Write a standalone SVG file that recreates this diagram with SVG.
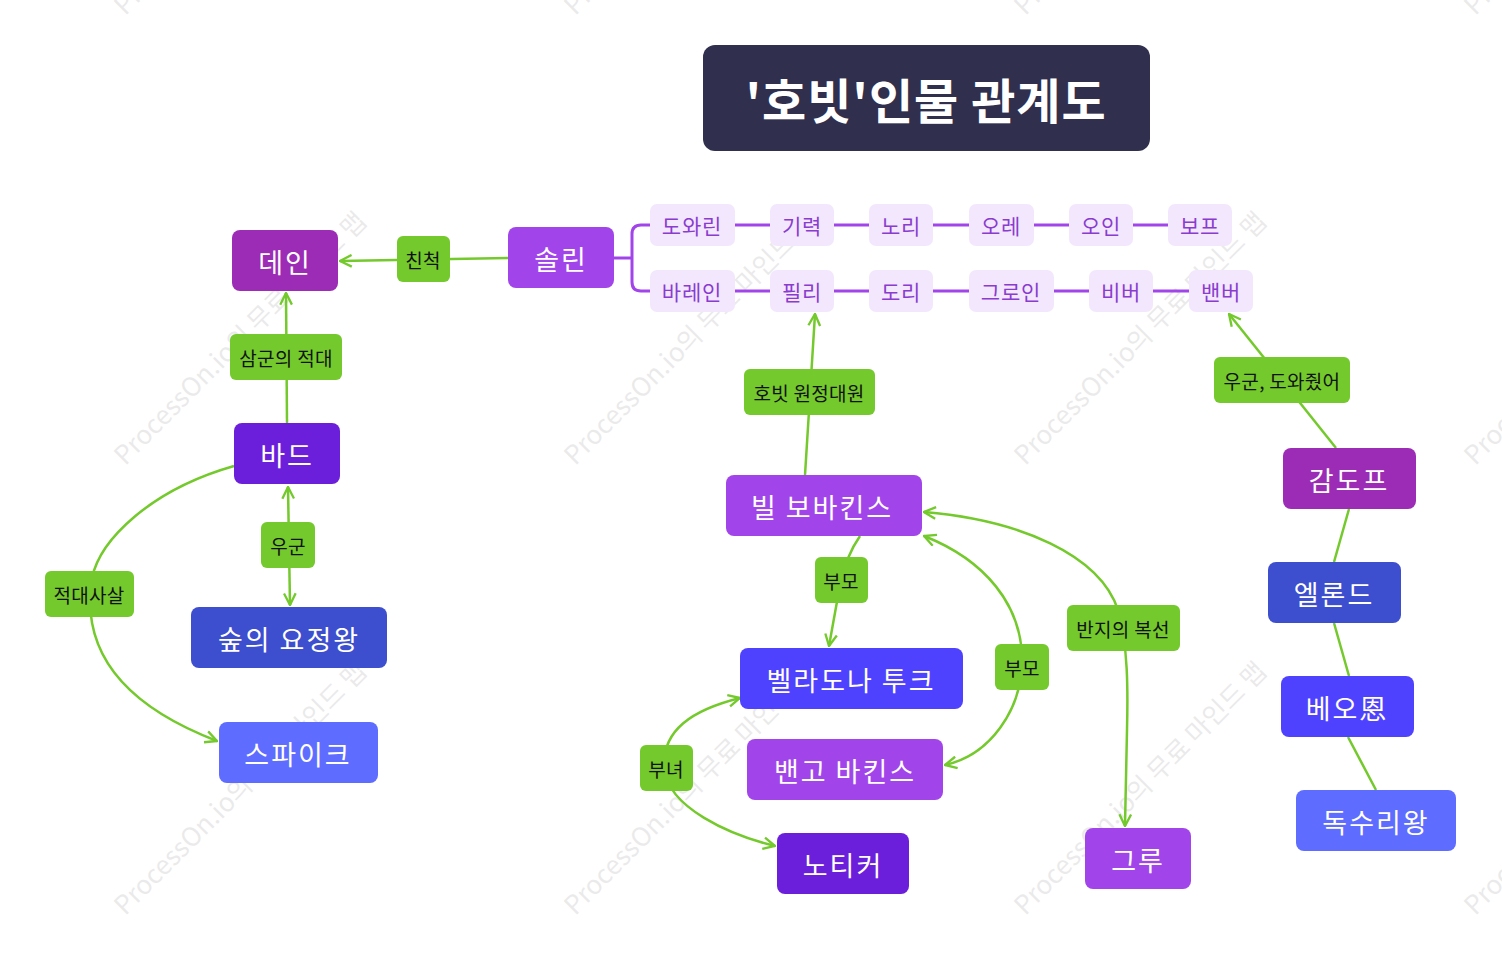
<svg xmlns="http://www.w3.org/2000/svg" width="1502" height="955" viewBox="0 0 1502 955">
<style>
text{font-family:"Noto Sans CJK KR","Noto Sans",sans-serif;text-anchor:middle;dominant-baseline:central}
.wm{font-size:26px;fill:#000;opacity:0.08;text-anchor:start}
.n{font-size:27px;fill:#fff;letter-spacing:2px}
.l{font-size:19px;fill:#111;letter-spacing:0.3px}
.c{font-size:21px;fill:#8a3ccf;letter-spacing:0.8px}
.lab{fill:#74c92c}
.chip{fill:#f3e7fd}
.con{fill:none;stroke:#74c92c;stroke-width:2.5}
.pl{fill:none;stroke:#a145ea;stroke-width:3}
</style>
<defs>
<marker id="ar" viewBox="0 0 12 12" refX="11" refY="6" markerWidth="14" markerHeight="14" markerUnits="userSpaceOnUse" orient="auto-start-reverse">
<path d="M1,1 L11,6 L1,11" fill="none" stroke="#74c92c" stroke-width="2"/>
</marker>
</defs>
<rect width="1502" height="955" fill="#fff"/>
<g id="watermark">
<text class="wm" transform="translate(117,458) rotate(-45)">ProcessOn.io의 무료 마인드 맵</text>
<text class="wm" transform="translate(567,458) rotate(-45)">ProcessOn.io의 무료 마인드 맵</text>
<text class="wm" transform="translate(1017,458) rotate(-45)">ProcessOn.io의 무료 마인드 맵</text>
<text class="wm" transform="translate(1467,458) rotate(-45)">ProcessOn.io의 무료 마인드 맵</text>
<text class="wm" transform="translate(117,908) rotate(-45)">ProcessOn.io의 무료 마인드 맵</text>
<text class="wm" transform="translate(567,908) rotate(-45)">ProcessOn.io의 무료 마인드 맵</text>
<text class="wm" transform="translate(1017,908) rotate(-45)">ProcessOn.io의 무료 마인드 맵</text>
<text class="wm" transform="translate(1467,908) rotate(-45)">ProcessOn.io의 무료 마인드 맵</text>
<text class="wm" transform="translate(117,8) rotate(-45)">ProcessOn.io의 무료 마인드 맵</text>
<text class="wm" transform="translate(567,8) rotate(-45)">ProcessOn.io의 무료 마인드 맵</text>
<text class="wm" transform="translate(1017,8) rotate(-45)">ProcessOn.io의 무료 마인드 맵</text>
<text class="wm" transform="translate(1467,8) rotate(-45)">ProcessOn.io의 무료 마인드 맵</text>
</g>
<g id="connectors">
<path class="pl" d="M614,258 L632,258 M650,225 L641,225 Q632,225 632,234 L632,282 Q632,291 641,291 L650,291"/>
<path class="pl" d="M735,225 L1168,225"/>
<path class="pl" d="M735,291 L1190,291"/>
<path class="con" d="M508,258 L340,261" marker-end="url(#ar)"/>
<path class="con" d="M287,423 L286,293" marker-end="url(#ar)"/>
<path class="con" d="M288,487 L290,605" marker-start="url(#ar)" marker-end="url(#ar)"/>
<path class="con" d="M234,466 C150,490 100,540 92,578 C82,640 110,700 217,741" marker-end="url(#ar)"/>
<path class="con" d="M805,475 L815,314" marker-end="url(#ar)"/>
<path class="con" d="M860,536 Q846,556 840,585 L829,646" marker-end="url(#ar)"/>
<path class="con" d="M924,536 C985,560 1022,605 1022,660 C1022,710 990,755 945,765" marker-start="url(#ar)" marker-end="url(#ar)"/>
<path class="con" d="M924,512 C1020,520 1100,555 1118,610 C1128,645 1128,690 1127,730 L1125,826" marker-start="url(#ar)" marker-end="url(#ar)"/>
<path class="con" d="M740,698 C692,710 662,730 664,768 C668,808 730,835 775,846" marker-start="url(#ar)" marker-end="url(#ar)"/>
<path class="con" d="M1336,448 L1229,314" marker-end="url(#ar)"/>
<path class="con" d="M1349,509 L1334,562"/>
<path class="con" d="M1334,623 L1349,676"/>
<path class="con" d="M1348,737 L1376,790"/>
</g>
<g id="title"><rect x="703" y="45" width="447" height="106" rx="12" fill="#302f4d"/><text x="926" y="98" style="font-size:48px;font-weight:bold;fill:#fff;letter-spacing:1px">'호빗'인물 관계도</text></g>
<g id="dain"><rect x="232" y="230" width="106" height="61" rx="8" fill="#9c2bb5"/><text class="n" x="285" y="261">데인</text></g>
<g id="lab-chincheok"><rect class="lab" x="397" y="236" width="53" height="46" rx="6"/><text class="l" x="423" y="259">친척</text></g>
<g id="thorin"><rect x="508" y="227" width="106" height="61" rx="8" fill="#a145ea"/><text class="n" x="561" y="258">솔린</text></g>
<g id="dwalin"><rect class="chip" x="650" y="204" width="85" height="42" rx="7"/><text class="c" x="692" y="225">도와린</text></g>
<g id="gimli"><rect class="chip" x="770" y="204" width="64" height="42" rx="7"/><text class="c" x="802" y="225">기력</text></g>
<g id="nori"><rect class="chip" x="869" y="204" width="64" height="42" rx="7"/><text class="c" x="901" y="225">노리</text></g>
<g id="ori"><rect class="chip" x="969" y="204" width="65" height="42" rx="7"/><text class="c" x="1001" y="225">오레</text></g>
<g id="oin"><rect class="chip" x="1069" y="204" width="64" height="42" rx="7"/><text class="c" x="1101" y="225">오인</text></g>
<g id="bofur"><rect class="chip" x="1168" y="204" width="64" height="42" rx="7"/><text class="c" x="1200" y="225">보프</text></g>
<g id="balin"><rect class="chip" x="650" y="270" width="85" height="42" rx="7"/><text class="c" x="692" y="291">바레인</text></g>
<g id="fili"><rect class="chip" x="770" y="270" width="64" height="42" rx="7"/><text class="c" x="802" y="291">필리</text></g>
<g id="dori"><rect class="chip" x="869" y="270" width="64" height="42" rx="7"/><text class="c" x="901" y="291">도리</text></g>
<g id="gloin"><rect class="chip" x="969" y="270" width="85" height="42" rx="7"/><text class="c" x="1011" y="291">그로인</text></g>
<g id="bifur"><rect class="chip" x="1089" y="270" width="64" height="42" rx="7"/><text class="c" x="1121" y="291">비버</text></g>
<g id="bombur"><rect class="chip" x="1189" y="270" width="64" height="42" rx="7"/><text class="c" x="1221" y="291">밴버</text></g>
<g id="lab-samgun"><rect class="lab" x="230" y="334" width="112" height="46" rx="6"/><text class="l" x="286" y="357">삼군의 적대</text></g>
<g id="bard"><rect x="234" y="423" width="106" height="61" rx="8" fill="#6c1fdb"/><text class="n" x="287" y="454">바드</text></g>
<g id="lab-ugun"><rect class="lab" x="261" y="522" width="54" height="46" rx="6"/><text class="l" x="288" y="545">우군</text></g>
<g id="thranduil"><rect x="191" y="607" width="196" height="61" rx="8" fill="#3d4ecf"/><text class="n" x="289" y="638">숲의 요정왕</text></g>
<g id="lab-jeokdae"><rect class="lab" x="45" y="571" width="89" height="46" rx="6"/><text class="l" x="89" y="594">적대사살</text></g>
<g id="spike"><rect x="219" y="722" width="159" height="61" rx="8" fill="#5e6cff"/><text class="n" x="298" y="753">스파이크</text></g>
<g id="lab-hobbit"><rect class="lab" x="744" y="369" width="131" height="46" rx="6"/><text class="l" x="809" y="392">호빗 원정대원</text></g>
<g id="bilbo"><rect x="726" y="475" width="196" height="61" rx="8" fill="#a145ea"/><text class="n" x="822" y="506">빌 보바킨스</text></g>
<g id="lab-bumo1"><rect class="lab" x="815" y="557" width="53" height="46" rx="6"/><text class="l" x="841" y="580">부모</text></g>
<g id="belladonna"><rect x="740" y="648" width="223" height="61" rx="8" fill="#4f42ff"/><text class="n" x="851" y="679">벨라도나 투크</text></g>
<g id="lab-bumo2"><rect class="lab" x="995" y="644" width="54" height="46" rx="6"/><text class="l" x="1022" y="667">부모</text></g>
<g id="bungo"><rect x="747" y="739" width="196" height="61" rx="8" fill="#a145ea"/><text class="n" x="845" y="770">밴고 바킨스</text></g>
<g id="lab-bunyeo"><rect class="lab" x="640" y="745" width="53" height="46" rx="6"/><text class="l" x="666" y="768">부녀</text></g>
<g id="notika"><rect x="777" y="833" width="132" height="61" rx="8" fill="#6c1fdb"/><text class="n" x="843" y="864">노티커</text></g>
<g id="lab-banji"><rect class="lab" x="1067" y="605" width="113" height="46" rx="6"/><text class="l" x="1123" y="628">반지의 복선</text></g>
<g id="gollum"><rect x="1085" y="828" width="106" height="61" rx="8" fill="#a145ea"/><text class="n" x="1138" y="859">그루</text></g>
<g id="lab-ugun2"><rect class="lab" x="1214" y="357" width="136" height="46" rx="6"/><text class="l" x="1282" y="380">우군, 도와줬어</text></g>
<g id="gandalf"><rect x="1283" y="448" width="133" height="61" rx="8" fill="#9c2bb5"/><text class="n" x="1349" y="479">감도프</text></g>
<g id="elrond"><rect x="1268" y="562" width="133" height="61" rx="8" fill="#3d4ecf"/><text class="n" x="1334" y="593">엘론드</text></g>
<g id="beorn"><rect x="1281" y="676" width="133" height="61" rx="8" fill="#4f42ff"/><text class="n" x="1347" y="707">베오恩</text></g>
<g id="eagle"><rect x="1296" y="790" width="160" height="61" rx="8" fill="#5e6cff"/><text class="n" x="1376" y="821">독수리왕</text></g>
</svg>
